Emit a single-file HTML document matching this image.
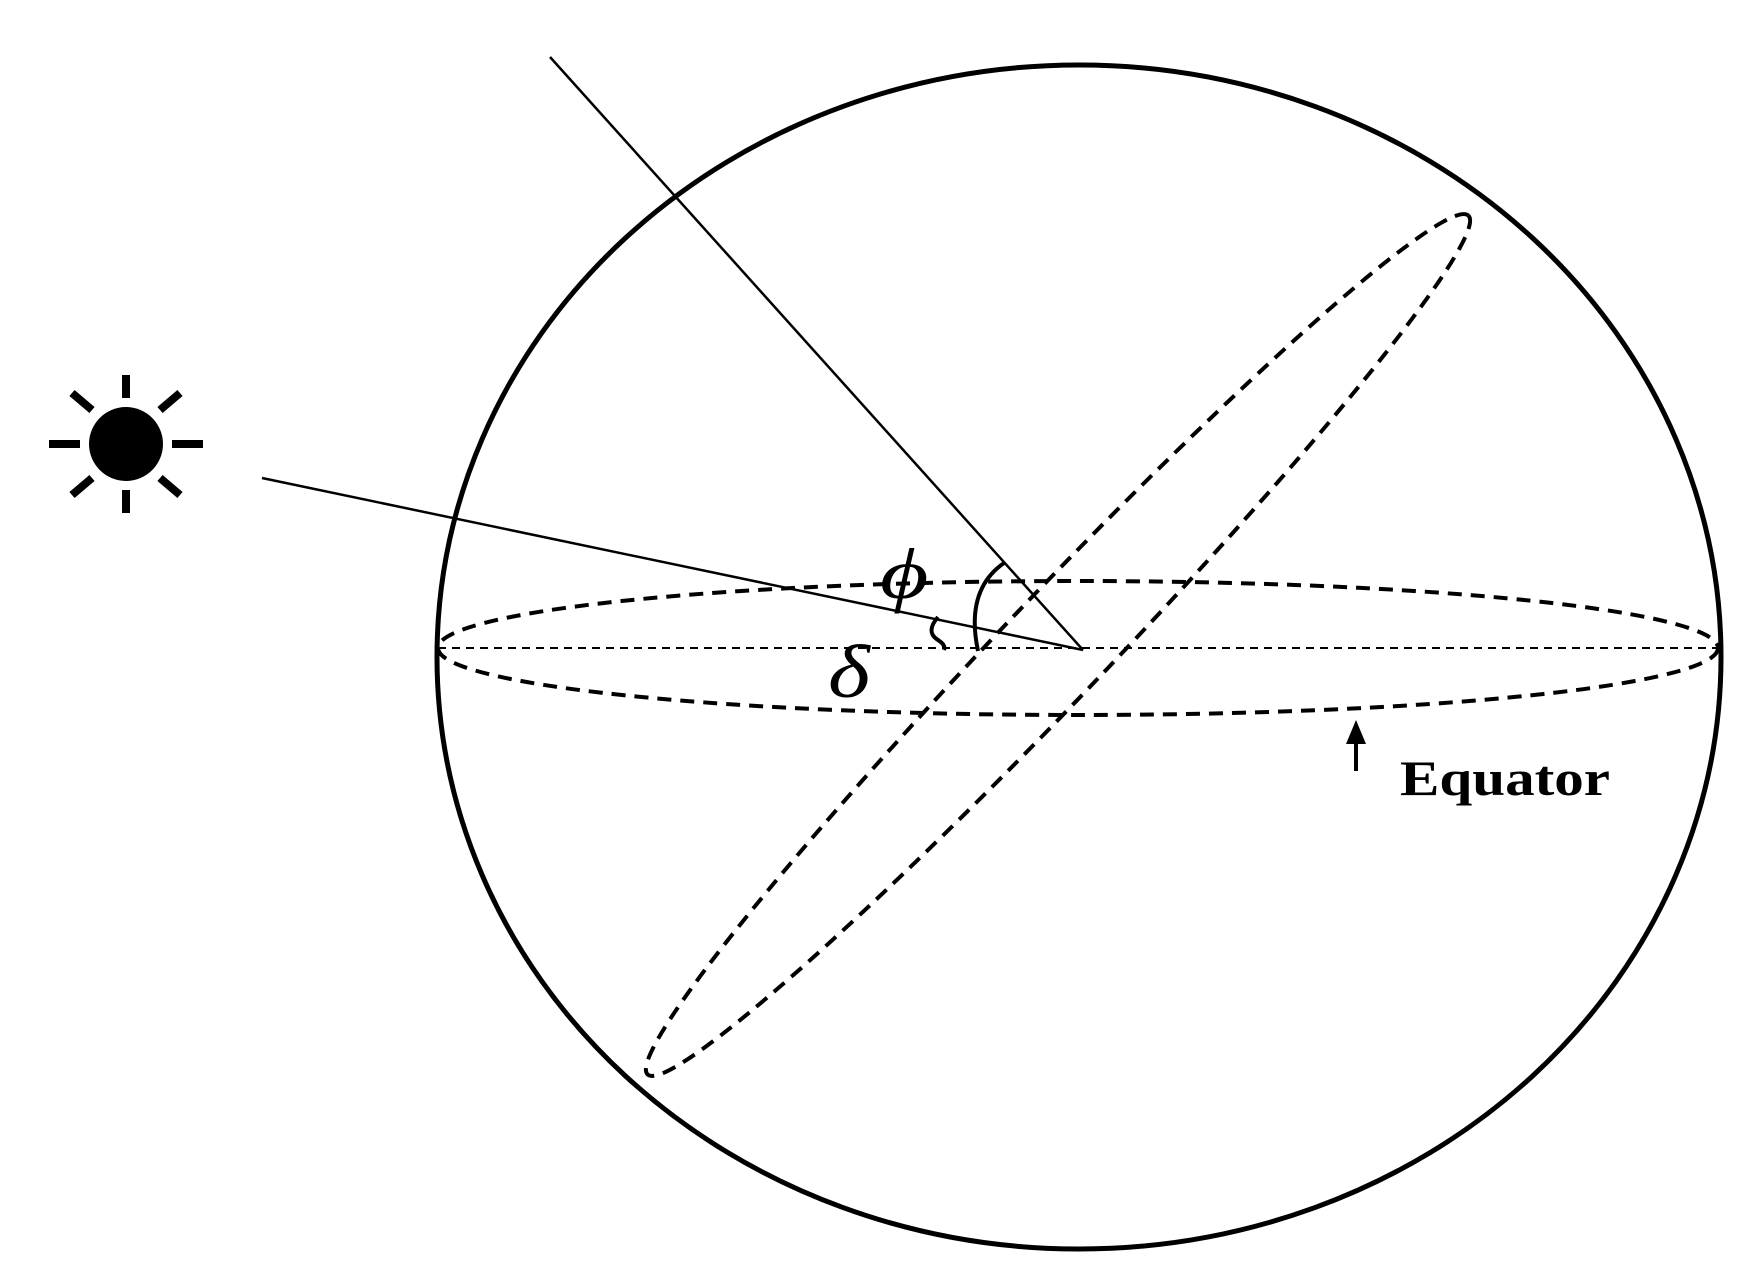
<!DOCTYPE html>
<html><head><style>html,body{margin:0;padding:0;background:#fff}</style></head>
<body>
<svg width="1764" height="1280" viewBox="0 0 1764 1280" xmlns="http://www.w3.org/2000/svg">
<rect width="1764" height="1280" fill="#fff"/>
<ellipse cx="1079" cy="657" rx="642" ry="592" fill="none" stroke="#000" stroke-width="5"/>
<ellipse cx="1078" cy="648" rx="640" ry="67" fill="none" stroke="#000" stroke-width="4" stroke-dasharray="14 9"/>
<line x1="438" y1="648" x2="1718" y2="648" stroke="#000" stroke-width="2" stroke-dasharray="8 6"/>
<ellipse cx="0" cy="0" rx="594" ry="52" transform="translate(1058,645) rotate(-46.3)" fill="none" stroke="#000" stroke-width="4" stroke-dasharray="14 9"/>
<line x1="550" y1="57" x2="1083" y2="650" stroke="#000" stroke-width="2.5"/>
<line x1="262" y1="478" x2="1083" y2="650" stroke="#000" stroke-width="2.5"/>
<path d="M1004,563 Q965,590 978,651" fill="none" stroke="#000" stroke-width="4"/>
<path d="M938,617 Q925,632 938,640 Q946,645 944,650" fill="none" stroke="#000" stroke-width="4"/>
<g stroke="#000" stroke-width="8">
<circle cx="126" cy="444" r="37" fill="#000" stroke="none"/>
<line x1="126" y1="375" x2="126" y2="398"/>
<line x1="126" y1="490" x2="126" y2="513"/>
<line x1="49" y1="444" x2="80" y2="444"/>
<line x1="172" y1="444" x2="203" y2="444"/>
<line x1="72" y1="393" x2="92" y2="410"/>
<line x1="160" y1="478" x2="180" y2="495"/>
<line x1="72" y1="495" x2="92" y2="478"/>
<line x1="160" y1="410" x2="180" y2="393"/>
</g>
<text transform="translate(880,598) scale(1.3,1)" font-family="Liberation Serif, serif" font-style="italic" font-size="72">ϕ</text>
<text transform="translate(828,697) scale(1.25,1.05)" font-family="Liberation Serif, serif" font-style="italic" font-size="72">δ</text>
<line x1="1356" y1="771" x2="1356" y2="740" stroke="#000" stroke-width="4"/>
<polygon points="1356,720 1346,744 1366,744" fill="#000"/>
<text x="1400" y="795" font-family="Liberation Serif, serif" font-weight="bold" font-size="50" textLength="210" lengthAdjust="spacingAndGlyphs">Equator</text>
</svg>
</body></html>
